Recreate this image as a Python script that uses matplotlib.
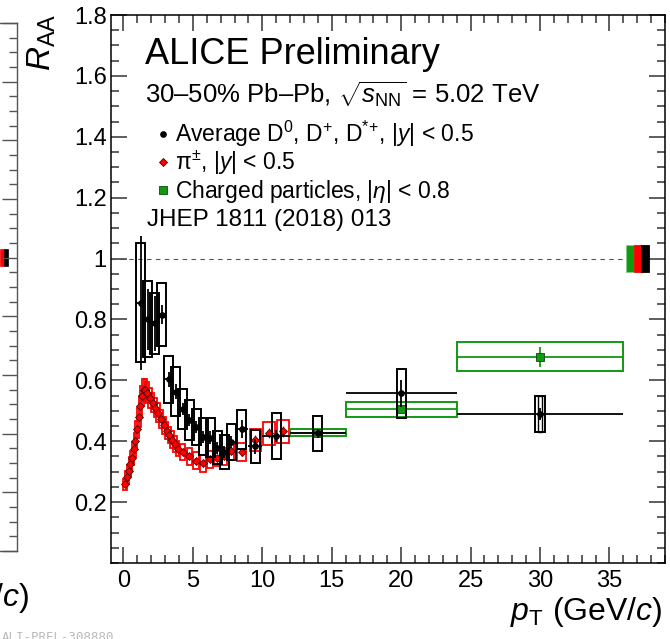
import numpy as np
import matplotlib
matplotlib.use("Agg")
import matplotlib.pyplot as plt
from matplotlib.patches import Rectangle
from matplotlib.ticker import MultipleLocator, FixedLocator, FixedFormatter

plt.rcParams["font.family"] = ["Liberation Sans", "DejaVu Sans"]
plt.rcParams["mathtext.fontset"] = "custom"
plt.rcParams["mathtext.rm"] = "Liberation Sans"
plt.rcParams["mathtext.it"] = "Liberation Sans:italic"
plt.rcParams["mathtext.bf"] = "Liberation Sans:bold"

# =========================
# Data
# =========================

# Average D0, D+, D*+ (black)
d_pt = [1.25, 1.75, 2.25, 2.75, 3.25, 3.75, 4.25, 4.75, 5.25, 5.75,
        6.25, 6.75, 7.25, 7.75, 8.5, 9.5, 11.0, 14.0, 20.0, 30.0]
d_xerr = [0.25, 0.25, 0.25, 0.25, 0.25, 0.25, 0.25, 0.25, 0.25, 0.25,
          0.25, 0.25, 0.25, 0.25, 0.5, 0.5, 1.0, 2.0, 4.0, 6.0]
d_raa = [0.855, 0.800, 0.787, 0.816, 0.603, 0.563, 0.505, 0.470, 0.447, 0.415,
         0.412, 0.379, 0.365, 0.398, 0.440, 0.383, 0.418, 0.426, 0.557, 0.489]
d_stat = [0.22, 0.10, 0.09, 0.03, 0.025, 0.025, 0.02, 0.02, 0.02, 0.02,
          0.02, 0.02, 0.02, 0.02, 0.03, 0.025, 0.02, 0.015, 0.043, 0.02]
d_syst = [0.195, 0.125, 0.100, 0.104, 0.078, 0.080, 0.065, 0.067, 0.060, 0.060,
          0.064, 0.053, 0.055, 0.060, 0.064, 0.053, 0.075, 0.058, 0.080, 0.059]

# pi+- (red)
pi_pt = [0.10, 0.25, 0.38, 0.50, 0.62, 0.74, 0.86, 0.98, 1.10, 1.22,
         1.34, 1.46, 1.58, 1.70, 1.90, 2.10, 2.30, 2.50, 2.70, 2.90,
         3.10, 3.30, 3.50, 3.70, 3.90, 4.25, 4.75, 5.25, 5.75, 6.25,
         6.75, 7.25, 7.75, 8.5, 9.5, 10.5, 11.5]
pi_raa = [0.259, 0.281, 0.303, 0.325, 0.346, 0.374, 0.401, 0.440, 0.478, 0.516,
          0.549, 0.568, 0.568, 0.560, 0.543, 0.527, 0.510, 0.494, 0.472, 0.452,
          0.435, 0.420, 0.405, 0.390, 0.376, 0.364, 0.350, 0.336, 0.328, 0.340,
          0.345, 0.350, 0.367, 0.365, 0.404, 0.426, 0.432]
pi_stat = [0.004, 0.004, 0.004, 0.004, 0.004, 0.004, 0.004, 0.004, 0.004, 0.004,
           0.004, 0.004, 0.004, 0.004, 0.004, 0.004, 0.004, 0.004, 0.004, 0.004,
           0.005, 0.005, 0.005, 0.005, 0.005, 0.006, 0.006, 0.007, 0.007, 0.008,
           0.008, 0.009, 0.010, 0.012, 0.015, 0.016, 0.018]
pi_syst = [0.018, 0.020, 0.020, 0.022, 0.023, 0.025, 0.026, 0.028, 0.030, 0.032,
           0.034, 0.035, 0.035, 0.034, 0.033, 0.032, 0.031, 0.030, 0.029, 0.028,
           0.028, 0.027, 0.027, 0.026, 0.026, 0.026, 0.027, 0.027, 0.028, 0.028,
           0.028, 0.029, 0.030, 0.030, 0.035, 0.037, 0.037]

# Charged particles (green)
ch_pt = [14.0, 20.0, 30.0]
ch_xerr = [2.0, 4.0, 6.0]
ch_raa = [0.428, 0.505, 0.678]
ch_stat = [0.004, 0.006, 0.033]
ch_syst = [0.012, 0.025, 0.047]

# normalisation uncertainties at RAA = 1 (charged, pi, D)
norm_unc = [0.043, 0.043, 0.043]
norm_unc_left = [0.03, 0.03]

# =========================
# Style
# =========================
BLACK = "black"
RED = "#ff0000"
GREEN = "#129912"
W, H = 670, 639


def fx(px):
    return px / W


def fy(py):
    return 1 - py / H


fig = plt.figure(figsize=(6.7, 6.39), dpi=100)

# partial neighbouring panel on the left (only its right edge is visible)
ax2 = fig.add_axes([fx(17 - 554), fy(551), fx(554), fy(23) - fy(551)])
ax2.set_xlim(-0.9, 39)
ax2.set_ylim(0, 1.8)
ax2.yaxis.set_major_locator(MultipleLocator(0.2))
ax2.yaxis.set_minor_locator(MultipleLocator(0.05))
ax2.tick_params(which="both", direction="in", left=False, right=True,
                labelleft=False, bottom=False, labelbottom=False, width=1.0,
                color="#555555")
ax2.tick_params(which="major", length=11)
ax2.tick_params(which="minor", length=5.5)
for s in ax2.spines.values():
    s.set_linewidth(1.0)
    s.set_color("#555555")
for i, (col, unc) in enumerate(zip([RED, BLACK], norm_unc_left)):
    ax2.add_patch(Rectangle((37.78 + 0.29 * i, 1 - unc), 0.29, 2 * unc,
                            facecolor=col, edgecolor=col, lw=0.5))
fig.text(fx(29), fy(606), r"$p_{\rm T}$ (GeV/$c$)", ha="right",
         va="baseline", fontsize=23)
fig.text(fx(2), fy(641), "ALI-PREL-308880", ha="left", va="baseline",
         fontsize=9, color="#bbbbbb", family="DejaVu Sans Mono")

# main panel
ax = fig.add_axes([fx(111), fy(563), fx(665) - fx(111), fy(15) - fy(563)])
ax.set_xlim(-0.9, 39)
ax.set_ylim(0, 1.8)

# reference line and normalisation boxes
ax.hlines(1, -0.9, 36.2, colors="#555555", linestyles=(0, (4, 4)), lw=0.8)
for i, (col, unc) in enumerate(zip([GREEN, RED, BLACK], norm_unc)):
    ax.add_patch(Rectangle((36.2 + 0.55 * i, 1 - unc), 0.55, 2 * unc,
                           facecolor=col, edgecolor="#88cc88" if i == 0 else col,
                           lw=0.6, zorder=3))

# pion systematic boxes
pt = np.array(pi_pt)
gaps = np.diff(pt)
hw = 0.42 * np.minimum(np.r_[gaps[0], gaps], np.r_[gaps, gaps[-1]])
hw = np.clip(hw, 0.13, 0.42)
for x, y, s, w in zip(pi_pt, pi_raa, pi_syst, hw):
    ax.add_patch(Rectangle((x - w, y - s), 2 * w, 2 * s, fill=False,
                           edgecolor=RED, lw=1.3, zorder=2))
ax.errorbar(pi_pt, pi_raa, yerr=pi_stat, fmt="D", ms=3.8, mfc=RED,
            mec="#550000", mew=0.6, ecolor=RED, elinewidth=1.0,
            capsize=0, zorder=4)

# charged particle boxes
for x, y, s, w in zip(ch_pt, ch_raa, ch_syst, ch_xerr):
    ax.add_patch(Rectangle((x - w, y - s), 2 * w, 2 * s, fill=False,
                           edgecolor=GREEN, lw=1.4, zorder=2))
ax.errorbar(ch_pt, ch_raa, xerr=ch_xerr, yerr=ch_stat, fmt="s", ms=5.5,
            mfc=GREEN, mec="#0a4a0a", mew=0.6, ecolor=GREEN, elinewidth=1.3,
            capsize=0, zorder=3)

# D-meson boxes
for x, y, s in zip(d_pt, d_raa, d_syst):
    ax.add_patch(Rectangle((x - 0.33, y - s), 0.66, 2 * s, fill=False,
                           edgecolor=BLACK, lw=1.4, zorder=5))
ax.add_patch(Rectangle((d_pt[-1] - 0.12, d_raa[-1] - d_syst[-1]), 0.24,
                       2 * d_syst[-1], fill=False, edgecolor=BLACK, lw=1.0,
                       zorder=5))
ax.errorbar(d_pt, d_raa, xerr=d_xerr, yerr=d_stat, fmt="o", ms=3.8,
            mfc=BLACK, mec=BLACK, ecolor=BLACK, elinewidth=1.3, capsize=0,
            zorder=6)

# axes style
ax.xaxis.set_major_locator(MultipleLocator(5))
ax.xaxis.set_minor_locator(MultipleLocator(1))
yticks = [0.2, 0.4, 0.6, 0.8, 1.0, 1.2, 1.4, 1.6, 1.8]
ax.yaxis.set_major_locator(FixedLocator(yticks))
ax.yaxis.set_major_formatter(FixedFormatter(["0.2", "0.4", "0.6", "0.8", "1",
                                             "1.2", "1.4", "1.6", "1.8"]))
ax.yaxis.set_minor_locator(MultipleLocator(0.05))
ax.tick_params(which="both", direction="in", top=True, right=True,
               labelsize=17, width=1.1, color="#333333")
ax.tick_params(which="major", length=11.5)
ax.tick_params(which="minor", length=5.5)
ax.tick_params(axis="x", pad=5)
ax.tick_params(axis="y", pad=3)
for s in ax.spines.values():
    s.set_linewidth(1.1)

fig.text(fx(58), fy(14), r"$R_{\rm AA}$", rotation=90, ha="right", va="top",
         fontsize=24)
fig.text(fx(662), fy(620), r"$p_{\rm T}$ (GeV/$c$)", ha="right",
         va="baseline", fontsize=23)

# text and legend
fig.text(fx(145), fy(64), "ALICE Preliminary", fontsize=26, va="baseline")
fig.text(fx(145), fy(104), r"30–50% Pb–Pb, $\sqrt{s_{\rm NN}}$ = 5.02 TeV",
         fontsize=18.5, va="baseline")
ax.plot([fx(163)], [fy(134)], "o", ms=3.8, color=BLACK,
        transform=fig.transFigure, clip_on=False)
ax.plot([fx(163)], [fy(162)], "D", ms=3.8, mfc=RED, mec="#550000", mew=0.6,
        transform=fig.transFigure, clip_on=False)
ax.plot([fx(163)], [fy(190)], "s", ms=5.5, mfc=GREEN, mec="#0a4a0a", mew=0.6,
        transform=fig.transFigure, clip_on=False)
fig.text(fx(175), fy(142),
         r"Average D$^{0}$, D$^{+}$, D$^{*}$$^{+}$, |$y$| < 0.5",
         fontsize=16.5, va="baseline")
fig.text(fx(175), fy(170), r"π$^{\pm}$, |$y$| < 0.5", fontsize=16.5,
         va="baseline")
fig.text(fx(175), fy(198), r"Charged particles, |$\eta$| < 0.8", fontsize=16.5,
         va="baseline")
fig.text(fx(147), fy(226), "JHEP 1811 (2018) 013", fontsize=17.5,
         va="baseline")

fig.savefig("out.png", dpi=100)
